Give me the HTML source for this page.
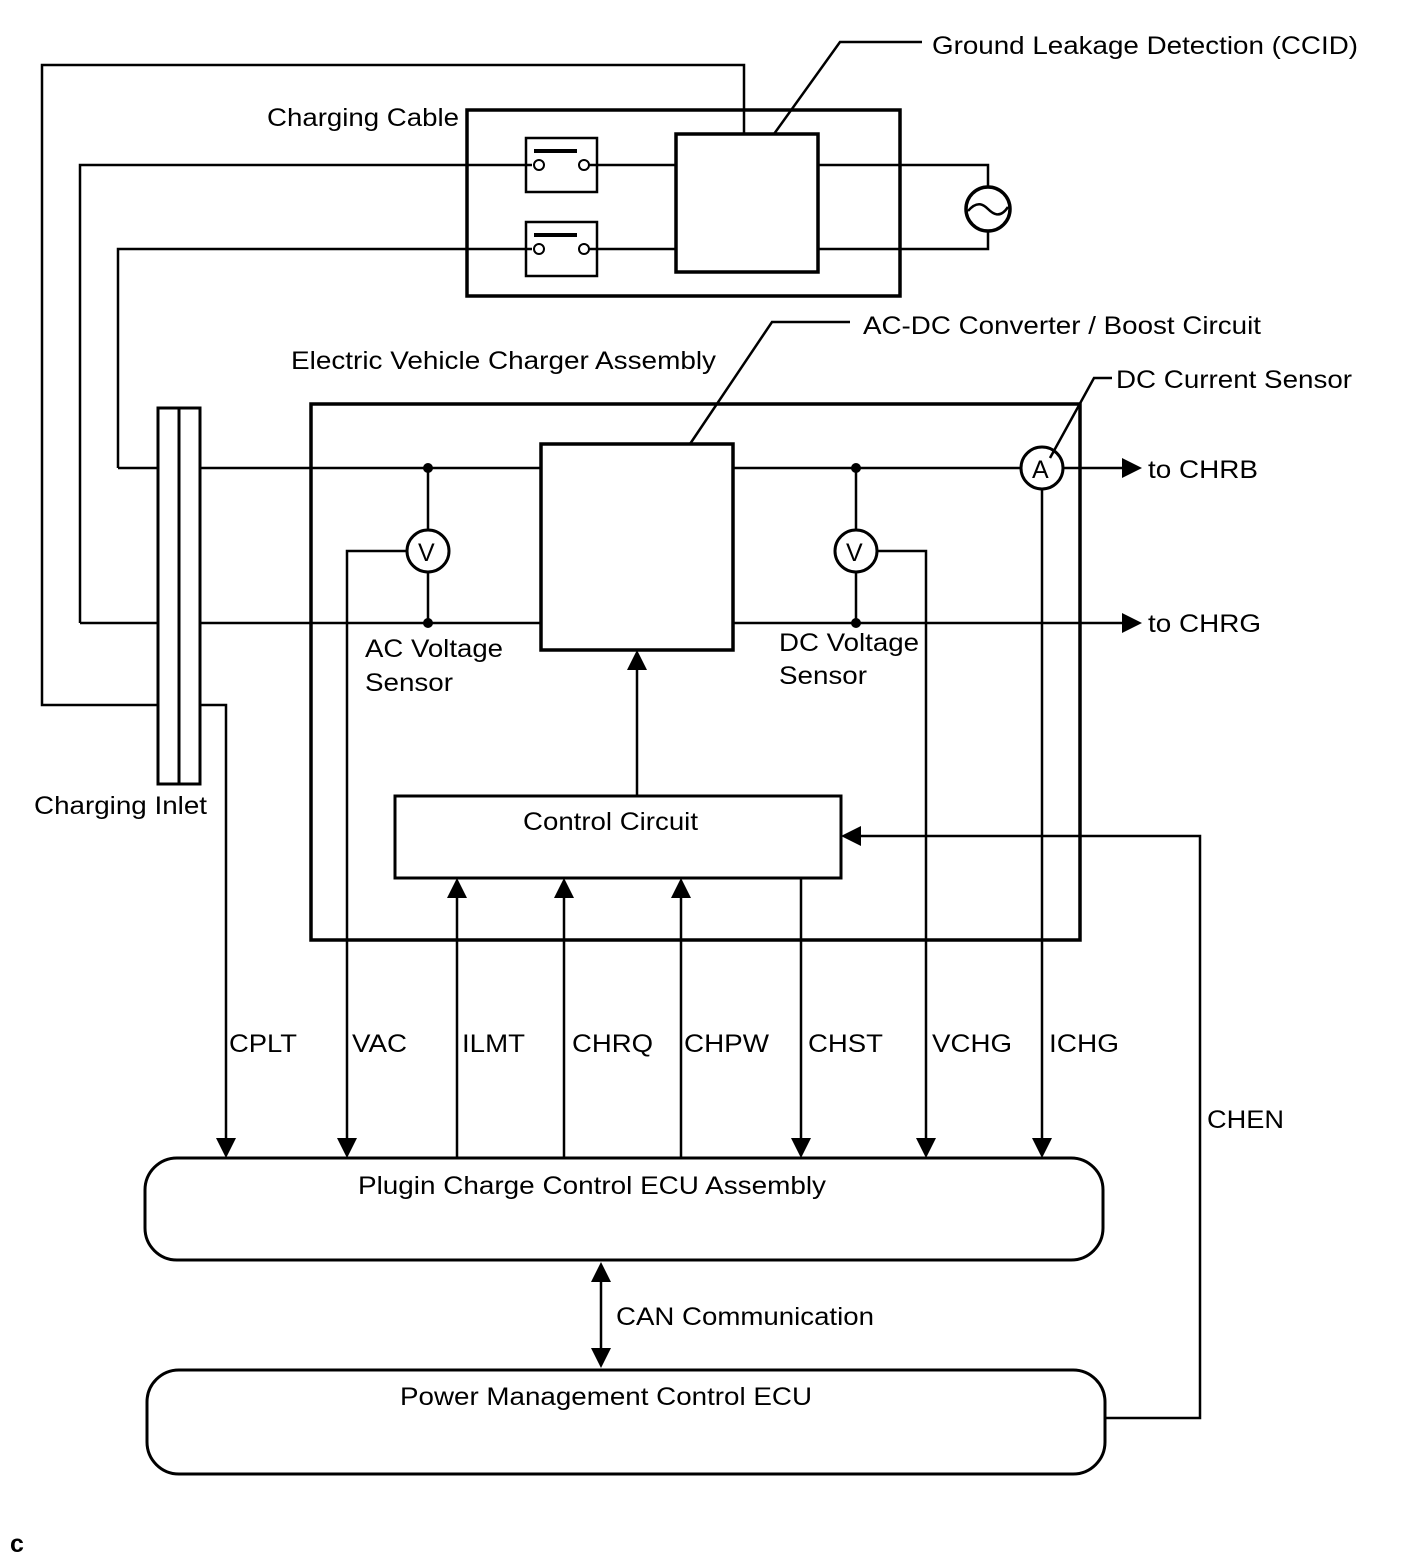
<!DOCTYPE html>
<html><head><style>body{margin:0;background:#fff}svg{display:block}text{font-family:"Liberation Sans",Arial,sans-serif;font-size:25px;fill:#000}</style></head><body>
<svg width="1424" height="1562" viewBox="0 0 1424 1562" xmlns="http://www.w3.org/2000/svg">
<g fill="none" stroke="#000" stroke-width="2.5">
<rect x="467" y="110" width="433" height="186" stroke-width="3.5"/>
<rect x="526" y="138" width="71" height="54"/>
<rect x="526" y="222" width="71" height="54"/>
<line x1="534" y1="151" x2="577" y2="151" stroke-width="4"/>
<line x1="534" y1="235" x2="577" y2="235" stroke-width="4"/>
<rect x="676" y="134" width="142" height="138" stroke-width="3.5"/>
<circle cx="988" cy="209" r="22" stroke-width="3.5"/>
<path d="M968,211 C978,199 985,206 988,209 C993,214 1000,219 1008,207"/>
<path d="M80,623 H158 M80,623 V165 H532 M589,165 H676 M818,165 H988 V187"/>
<path d="M118,468 H158 M118,468 V249 H532 M589,249 H676 M818,249 H988 V231"/>
<path d="M158,705 H42 V65 H744 V134"/>
<path d="M774,134 L840,42 H922"/>
<rect x="158" y="408" width="42" height="376" stroke-width="3"/>
<line x1="179" y1="408" x2="179" y2="784" stroke-width="3"/>
<rect x="311" y="404" width="769" height="536" stroke-width="3.5"/>
<rect x="541" y="444" width="192" height="206" stroke-width="3.5"/>
<path d="M690,444 L772,322 H850"/>
<path d="M1050,458 L1094,378 H1112"/>
<path d="M200,468 H541 M733,468 H1021 M1063,468 H1125" />
<path d="M200,623 H541 M733,623 H1125"/>
<path d="M428,468 V530 M428,572 V623 M856,468 V530 M856,572 V623"/>
<circle cx="428" cy="551" r="21" stroke-width="3"/>
<circle cx="856" cy="551" r="21" stroke-width="3"/>
<circle cx="1042" cy="468" r="21" stroke-width="3"/>
<path d="M407,551 H347 V1140"/>
<path d="M877,551 H926 V1140"/>
<path d="M1042,489 V1140"/>
<path d="M200,705 H226 V1140"/>
<rect x="395" y="796" width="446" height="82" stroke-width="3"/>
<path d="M637,796 V668"/>
<path d="M457,1158 V896 M564,1158 V896 M681,1158 V896"/>
<path d="M801,878 V1140"/>
<path d="M1105,1418 H1200 V836 H859"/>
<rect x="145" y="1158" width="958" height="102" rx="32" stroke-width="3"/>
<rect x="147" y="1370" width="958" height="104" rx="32" stroke-width="3"/>
<path d="M601,1280 V1350"/>
</g>
<g fill="#000">
<circle cx="539" cy="165" r="5" fill="#fff" stroke="#000" stroke-width="2"/><circle cx="584" cy="165" r="5" fill="#fff" stroke="#000" stroke-width="2"/>
<circle cx="539" cy="249" r="5" fill="#fff" stroke="#000" stroke-width="2"/><circle cx="584" cy="249" r="5" fill="#fff" stroke="#000" stroke-width="2"/>
<circle cx="428" cy="468" r="5"/><circle cx="428" cy="623" r="5"/><circle cx="856" cy="468" r="5"/><circle cx="856" cy="623" r="5"/>
<path d="M1122,458 L1142,468 L1122,478z"/><path d="M1122,613 L1142,623 L1122,633z"/>
<path d="M216,1138 L226,1158 L236,1138z"/><path d="M337,1138 L347,1158 L357,1138z"/>
<path d="M916,1138 L926,1158 L936,1138z"/><path d="M1032,1138 L1042,1158 L1052,1138z"/>
<path d="M791,1138 L801,1158 L811,1138z"/>
<path d="M447,898 L457,878 L467,898z"/><path d="M554,898 L564,878 L574,898z"/><path d="M671,898 L681,878 L691,898z"/>
<path d="M627,670 L637,650 L647,670z"/>
<path d="M861,826 L841,836 L861,846z"/>
<path d="M591,1282 L601,1262 L611,1282z"/><path d="M591,1348 L601,1368 L611,1348z"/>
</g>
<g lengthAdjust="spacingAndGlyphs">
<text x="932" y="54" textLength="426" lengthAdjust="spacingAndGlyphs">Ground Leakage Detection (CCID)</text>
<text x="267" y="126" textLength="192" lengthAdjust="spacingAndGlyphs">Charging Cable</text>
<text x="863" y="334" textLength="398" lengthAdjust="spacingAndGlyphs">AC-DC Converter / Boost Circuit</text>
<text x="291" y="369" textLength="425" lengthAdjust="spacingAndGlyphs">Electric Vehicle Charger Assembly</text>
<text x="1116" y="388" textLength="236" lengthAdjust="spacingAndGlyphs">DC Current Sensor</text>
<text x="1148" y="478" textLength="110" lengthAdjust="spacingAndGlyphs">to CHRB</text>
<text x="1148" y="632" textLength="113" lengthAdjust="spacingAndGlyphs">to CHRG</text>
<text x="418" y="561" font-size="24">V</text>
<text x="846" y="561" font-size="24">V</text>
<text x="1032" y="478" font-size="24">A</text>
<text x="365" y="657" textLength="138" lengthAdjust="spacingAndGlyphs">AC Voltage</text><text x="365" y="691" textLength="88" lengthAdjust="spacingAndGlyphs">Sensor</text>
<text x="779" y="651" textLength="140" lengthAdjust="spacingAndGlyphs">DC Voltage</text><text x="779" y="684" textLength="88" lengthAdjust="spacingAndGlyphs">Sensor</text>
<text x="34" y="814" textLength="173" lengthAdjust="spacingAndGlyphs">Charging Inlet</text>
<text x="523" y="830" textLength="175" lengthAdjust="spacingAndGlyphs">Control Circuit</text>
<text x="229" y="1052" textLength="68" lengthAdjust="spacingAndGlyphs">CPLT</text>
<text x="352" y="1052" textLength="55" lengthAdjust="spacingAndGlyphs">VAC</text>
<text x="462" y="1052" textLength="63" lengthAdjust="spacingAndGlyphs">ILMT</text>
<text x="572" y="1052" textLength="81" lengthAdjust="spacingAndGlyphs">CHRQ</text>
<text x="684" y="1052" textLength="85" lengthAdjust="spacingAndGlyphs">CHPW</text>
<text x="808" y="1052" textLength="75" lengthAdjust="spacingAndGlyphs">CHST</text>
<text x="932" y="1052" textLength="80" lengthAdjust="spacingAndGlyphs">VCHG</text>
<text x="1049" y="1052" textLength="70" lengthAdjust="spacingAndGlyphs">ICHG</text>
<text x="1207" y="1128" textLength="77" lengthAdjust="spacingAndGlyphs">CHEN</text>
<text x="358" y="1194" textLength="468" lengthAdjust="spacingAndGlyphs">Plugin Charge Control ECU Assembly</text>
<text x="616" y="1325" textLength="258" lengthAdjust="spacingAndGlyphs">CAN Communication</text>
<text x="400" y="1405" textLength="412" lengthAdjust="spacingAndGlyphs">Power Management Control ECU</text>
</g>
<text x="10" y="1552" font-size="16" font-weight="bold">c</text>
</svg>
</body></html>
